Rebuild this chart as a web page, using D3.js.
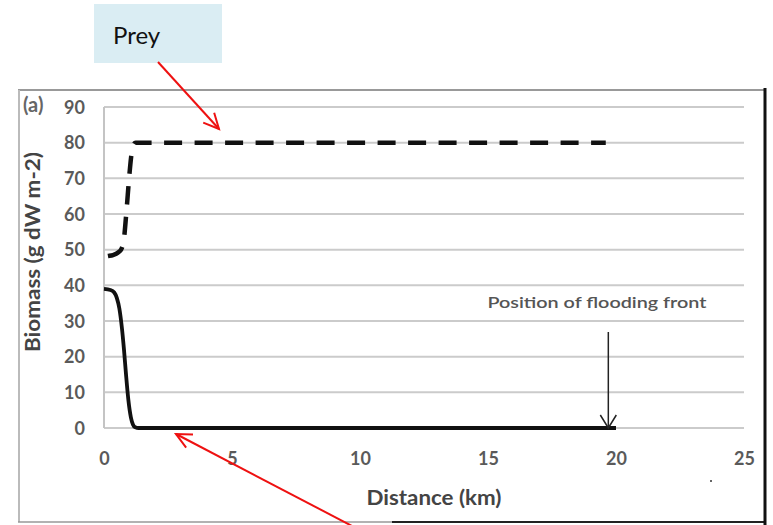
<!DOCTYPE html>
<html><head><meta charset="utf-8">
<script src="https://cdn.jsdelivr.net/npm/d3@7"></script>
<style>
html,body{margin:0;padding:0;background:#fff;}
svg{display:block;}
text{font-family:Lato,"Open Sans",sans-serif;}
</style></head>
<body>
<svg id="chart" width="773" height="525"></svg>
<script>
// Data
const xTicks = [0, 5, 10, 15, 20, 25];
const yTicks = [0, 10, 20, 30, 40, 50, 60, 70, 80, 90];
const preyX = [0, 0.15, 0.35, 0.55, 0.68, 0.77, 0.88, 0.98, 1.06, 1.13, 1.23, 1.36, 19.6];
const preyY = [48, 48.2, 48.5, 49.2, 50.2, 52.5, 61, 70, 76, 79, 80, 80, 80];
const predX = [0, 0.25, 0.4, 0.5, 0.6, 0.7, 0.78, 0.86, 0.95, 1.05, 1.13, 1.22, 1.35, 20];
const predY = [39, 38.7, 38, 36.5, 33.5, 28, 22, 15, 8, 3, 1, 0.2, 0, 0];
const frontX = 19.7;

const svg = d3.select("#chart");
const x = d3.scaleLinear().domain([0, 25]).range([104, 744]);
const y = d3.scaleLinear().domain([0, 90]).range([428, 107]);

// outer frame
svg.append("line").attr("x1",18).attr("x2",766).attr("y1",90).attr("y2",90).attr("stroke","#999").attr("stroke-width",2);
svg.append("line").attr("x1",19).attr("x2",19).attr("y1",90).attr("y2",522).attr("stroke","#bbb").attr("stroke-width",2);
svg.append("line").attr("x1",18).attr("x2",392).attr("y1",522).attr("y2",522).attr("stroke","#999").attr("stroke-width",1.5);
svg.append("line").attr("x1",392).attr("x2",766).attr("y1",522).attr("y2",522).attr("stroke","#222").attr("stroke-width",2);
svg.append("line").attr("x1",765).attr("x2",765).attr("y1",88).attr("y2",525).attr("stroke","#111").attr("stroke-width",3);

// gridlines
svg.append("g").selectAll("line").data(yTicks).join("line")
  .attr("x1", x(0)).attr("x2", x(25))
  .attr("y1", d => y(d)).attr("y2", d => y(d))
  .attr("stroke", "#cbcbcb").attr("stroke-width", 2);
svg.append("line").attr("x1", x(0)).attr("x2", x(0)).attr("y1", y(90)).attr("y2", y(0))
  .attr("stroke", "#c4c4c4").attr("stroke-width", 2);

// y axis tick labels
const yAxis = d3.axisLeft(y).tickValues(yTicks).tickSize(0).tickPadding(19);
const gy = svg.append("g").attr("transform", `translate(${x(0)},0)`).call(yAxis);
gy.select(".domain").remove();
gy.selectAll("text").attr("font-size", 18).attr("fill", "#5a5a5a").attr("font-family","Lato,sans-serif").attr("font-weight","bold").attr("dy","0.35em");

// x axis tick labels
const xAxis = d3.axisBottom(x).tickValues(xTicks).tickSize(0).tickPadding(24);
const gx = svg.append("g").attr("transform", `translate(0,${y(0)})`).call(xAxis);
gx.select(".domain").remove();
gx.selectAll("text").attr("font-size", 18).attr("fill", "#5a5a5a").attr("font-family","Lato,sans-serif").attr("font-weight","bold");

// (a)
svg.append("text").attr("x", 23).attr("y", 112).attr("font-family","'Liberation Serif',serif").attr("font-size",20).attr("fill","#666").attr("font-weight","bold").text("(a)");

// axis titles
svg.append("text").attr("transform", "translate(40,252) rotate(-90)").attr("text-anchor","middle")
  .attr("font-size",20).attr("font-weight","bold").attr("fill","#444")
  .attr("textLength",200).attr("lengthAdjust","spacingAndGlyphs").text("Biomass (g dW m-2)");
svg.append("text").attr("x", 434).attr("y", 505).attr("text-anchor","middle")
  .attr("font-size",20).attr("font-weight","bold").attr("fill","#444")
  .attr("textLength",135).attr("lengthAdjust","spacingAndGlyphs").text("Distance (km)");

// lines
const lineGen = d3.line().x(d => x(d[0])).y(d => y(d[1])).curve(d3.curveMonotoneX);
svg.append("path").datum(preyX.map((v,i)=>[v,preyY[i]]))
  .attr("d", lineGen)
  .attr("fill","none").attr("stroke","#111").attr("stroke-width",4.5)
  .attr("stroke-dasharray","18 12.5").attr("stroke-dashoffset", -4);
svg.append("path").datum(predX.map((v,i)=>[v,predY[i]]))
  .attr("d", lineGen)
  .attr("fill","none").attr("stroke","#111").attr("stroke-width",3.8).attr("stroke-linejoin","round");

// annotation text
svg.append("text").attr("x", 597).attr("y", 308).attr("text-anchor","middle")
  .attr("font-size",16).attr("fill","#555").attr("font-weight","600")
  .attr("textLength",219).attr("lengthAdjust","spacingAndGlyphs")
  .text("Position of flooding  front");

// black arrow
const ax = x(frontX);
svg.append("line").attr("x1", ax).attr("x2", ax).attr("y1", 332).attr("y2", y(0)).attr("stroke","#222").attr("stroke-width",1.5);
svg.append("path").attr("d", `M${ax-8},${y(0)-13} L${ax},${y(0)} L${ax+8},${y(0)-13}`).attr("fill","none").attr("stroke","#222").attr("stroke-width",1.5);

// Prey label box
svg.append("rect").attr("x",94).attr("y",4).attr("width",128).attr("height",59).attr("fill","#daedf3");
svg.append("text").attr("x",113).attr("y",44).attr("font-family","'Open Sans',sans-serif").attr("font-size",24).attr("fill","#111").text("Prey");

// red arrows
function redArrow(x1,y1,x2,y2){
  svg.append("line").attr("x1",x1).attr("y1",y1).attr("x2",x2).attr("y2",y2).attr("stroke","#ee1111").attr("stroke-width",2);
  const a = Math.atan2(y2-y1, x2-x1), L = 17, s = 0.45;
  const p1 = [x2 - L*Math.cos(a - s), y2 - L*Math.sin(a - s)];
  const p2 = [x2 - L*Math.cos(a + s), y2 - L*Math.sin(a + s)];
  svg.append("path").attr("d",`M${p1[0]},${p1[1]} L${x2},${y2} L${p2[0]},${p2[1]}`)
    .attr("fill","none").attr("stroke","#ee1111").attr("stroke-width",2);
}
redArrow(158, 62, 219, 129);
redArrow(352, 526, 176, 434);

// stray dot
svg.append("circle").attr("cx",711).attr("cy",481).attr("r",1).attr("fill","#333");
</script>
</body></html>
